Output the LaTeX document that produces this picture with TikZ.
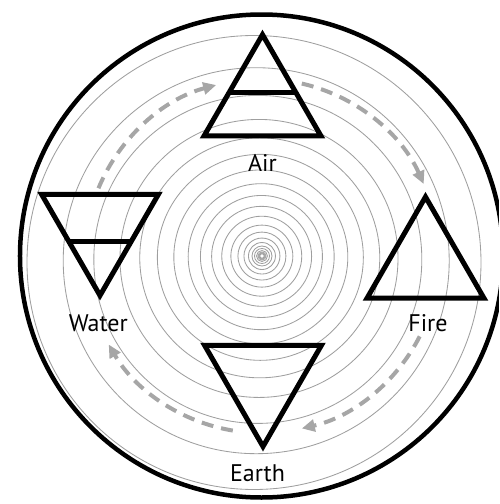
\documentclass[tikz,border=0pt]{standalone}
\usepackage{fontspec}
\setmainfont{PT Sans}
\usetikzlibrary{shapes.geometric,arrows.meta,calc}

\begin{document}
\begin{tikzpicture}[
    x=1pt, y=1pt,
    ring/.style={draw=gray!75, line width=0.85pt},
    element/.style={
        regular polygon, regular polygon sides=3,
        draw=black, line width=5pt,
        inner sep=0pt, outer sep=0pt,
        minimum size=135pt
    },
    elemdown/.style={element, shape border rotate=180},
    crossbar/.style={draw=black, line width=5pt},
    elabel/.style={font=\fontsize{24}{27}\selectfont, text=black},
    flow/.style={
        draw=gray!70, line width=4pt,
        dash pattern=on 12pt off 8pt,
        -{Triangle[length=13pt, width=12pt]}
    }
]

\useasboundingbox (-262,-248) rectangle (237,256);
\clip (-262,-248) rectangle (237,256);

%% Rings drifting towards the centre
\foreach \r in {227,193,164,139,120,103,87,73,61,50,40,31,24,18,13.5,10,7.5,5.5,4,3,2.2}
    \draw[ring] ({-8*(\r/227)^2}, {-6.5*(\r/227)^2}) circle[radius=\r];
\fill[white] (0,0) circle[radius=1.2];

%% Outer rim
\draw[line width=4.5pt] (-0.5,0) circle[radius=241.5];

%% Element symbols
\node[element]  (air)   at (0.5,153.8) {};
\node[elemdown] (water) at (-162,28) {};
\node[element]  (fire)  at (163.5,-8.4) {};
\node[elemdown] (earth) at (1,-123) {};

\draw[crossbar] ($(air.corner 1)!0.566!(air.corner 2)$)
    -- ($(air.corner 1)!0.566!(air.corner 3)$);
\draw[crossbar] ($(water.corner 1)!0.53!(water.corner 2)$)
    -- ($(water.corner 1)!0.53!(water.corner 3)$);

%% Names
\node[elabel] (airtxt)   at (0.5,92.7)    {Air};
\node[elabel] (watertxt) at (-163.7,-67.3) {Water};
\node[elabel] (firetxt)  at (166,-67.3)   {Fire};
\node[elabel] (earthtxt) at (-4.5,-217.3) {Earth};

%% Cycle arrows
\coordinate (wa) at (157.5:177);
\coordinate (af) at (77:177);
\coordinate (fe) at (-27:177);
\coordinate (ew) at (-99.5:177);

\draw[flow] (wa) arc[start angle=157.5, end angle=105, radius=177];
\draw[flow] (af) arc[start angle=77, end angle=24, radius=177];
\draw[flow] (fe) arc[start angle=-27, end angle=-77, radius=177];
\draw[flow] (ew) arc[start angle=-99.5, end angle=-150, radius=177];

\end{tikzpicture}
\end{document}
